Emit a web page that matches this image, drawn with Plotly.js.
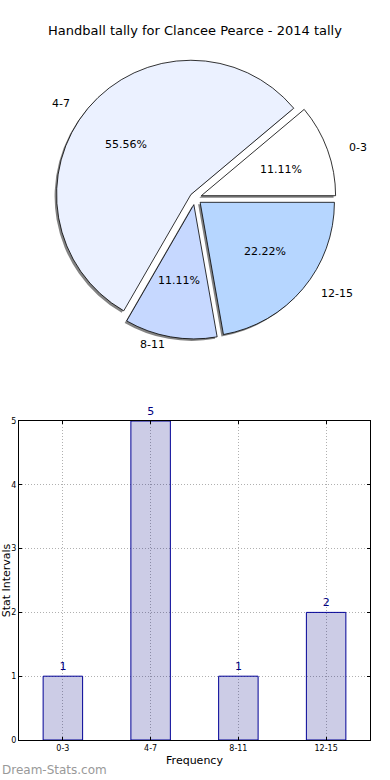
<!DOCTYPE html>
<html><head><meta charset="utf-8">
<script src="https://cdn.plot.ly/plotly-3.0.1.min.js"></script>
<style>html,body{margin:0;padding:0;background:#fff}#chart{width:390px;height:780px}</style>
</head><body><div id="chart"></div>
<script>
const categories = ['0-3', '4-7', '8-11', '12-15'];
const counts = [1, 5, 1, 2];
const sliceColors = ['#ffffff', '#ebf1ff', '#c6d8ff', '#b6d6ff'];
const pulls = [0.05, 0.04, 0.05, 0.05];
const yTicks = [0, 1, 2, 3, 4, 5];

const W = 390, H = 780, mL = 19, mR = 20, mT = 0, mB = 40;
const pw = W - mL - mR, ph = H - mT - mB;
const cx = 195, cy = 198, half = 141;
const rx = 141, ry = 129;          // label placement radii (px)
const pieX = [(cx - half - mL) / pw, (cx + half - mL) / pw];
const pieY = [(H - mB - (cy + half)) / ph, (H - mB - (cy - half)) / ph];
const sdx = -2 / pw, sdy = -2 / ph;
const toPX = px => (px - mL) / pw;
const toPY = py => (H - mB - py) / ph;

const font = 'DejaVu Sans, sans-serif';
const common = {
  type: 'pie', labels: categories, values: counts, sort: false,
  direction: 'counterclockwise', rotation: 50, pull: pulls,
  hoverinfo: 'none', showlegend: false, textinfo: 'none'
};

const shadow = Object.assign({}, common, {
  domain: {x: [pieX[0] + sdx, pieX[1] + sdx], y: [pieY[0] + sdy, pieY[1] + sdy]},
  marker: {colors: categories.map(() => 'rgba(90,90,90,0.75)'), line: {width: 0}}
});
const main = Object.assign({}, common, {
  domain: {x: pieX, y: pieY},
  marker: {colors: sliceColors, line: {color: '#000', width: 0.8}}
});

// pie text annotations (percent inside, category outside), derived from the data
const total = counts.reduce((a, b) => a + b, 0);
const pieAnn = [];
let cum = 0;
counts.forEach((v, i) => {
  const mid = (cum + v / 2) / total * 2 * Math.PI;
  cum += v;
  const c = Math.cos(mid), s = Math.sin(mid);
  const ox = pulls[i] * rx * c, oy = pulls[i] * ry * s;
  pieAnn.push({
    text: (v / total * 100).toFixed(2) + '%', xref: 'paper', yref: 'paper',
    x: toPX(cx + ox + 0.6 * rx * c), y: toPY(cy - oy - 0.6 * ry * s),
    xanchor: 'center', yanchor: 'middle', showarrow: false,
    font: {family: font, size: 11, color: '#000'}
  });
  pieAnn.push({
    text: categories[i], xref: 'paper', yref: 'paper',
    x: toPX(cx + ox + 1.1 * rx * c), y: toPY(cy - oy - 1.1 * ry * s),
    xanchor: c > 0 ? 'left' : 'right', yanchor: 'middle', showarrow: false,
    font: {family: font, size: 11, color: '#000'}
  });
});

const bars = {
  type: 'bar', x: categories, y: counts, width: 0.45,
  marker: {color: 'rgba(0,0,130,0.2)', line: {color: '#000096', width: 1}},
  text: counts.map(String), textposition: 'outside', cliponaxis: false,
  textfont: {family: font, size: 11, color: '#000080'},
  hoverinfo: 'none', showlegend: false
};

const layout = {
  width: W, height: H,
  margin: {l: mL, r: mR, t: mT, b: mB},
  paper_bgcolor: '#fff', plot_bgcolor: '#fff',
  font: {family: font, color: '#000'},
  title: {text: 'Handball tally for Clancee Pearce - 2014 tally', font: {family: font, size: 13, color: '#000'},
          x: 0.5, xanchor: 'center', xref: 'container', y: 1 - 30 / H, yanchor: 'middle', yref: 'container'},
  xaxis: {
    domain: [0, 1], range: [-0.5, 3.5], type: 'category',
    showline: true, mirror: 'ticks', linecolor: '#000', linewidth: 1,
    ticks: 'inside', ticklen: 3, tickcolor: '#000',
    showgrid: true, gridcolor: '#b0b0b0', griddash: '1px,2px', gridwidth: 1,
    tickfont: {family: font, size: 8, color: '#000'},
    title: {text: 'Frequency', font: {family: font, size: 11, color: '#000'}, standoff: 4},
    automargin: false, zeroline: false, fixedrange: true
  },
  yaxis: {
    domain: [0, (H - mB - 421) / ph], range: [0, 5], tickvals: yTicks,
    showline: true, mirror: 'ticks', linecolor: '#000', linewidth: 1,
    ticks: 'inside', ticklen: 3, tickcolor: '#000',
    showgrid: true, gridcolor: '#b0b0b0', griddash: '1px,2px', gridwidth: 1,
    tickfont: {family: font, size: 8, color: '#000'},
    title: {text: 'Stat Intervals', font: {family: font, size: 11, color: '#000'}, standoff: 0},
    automargin: false, zeroline: false, fixedrange: true
  },
  annotations: pieAnn.concat([{
    text: 'Dream-Stats.com', xref: 'paper', yref: 'paper',
    x: -mL / pw, y: (H - mB - 770) / ph, xanchor: 'left', yanchor: 'middle',
    showarrow: false, font: {family: font, size: 12, color: '#999999'}
  }])
};

Plotly.newPlot('chart', [shadow, main, bars], layout, {displayModeBar: false, staticPlot: true});
</script></body></html>
